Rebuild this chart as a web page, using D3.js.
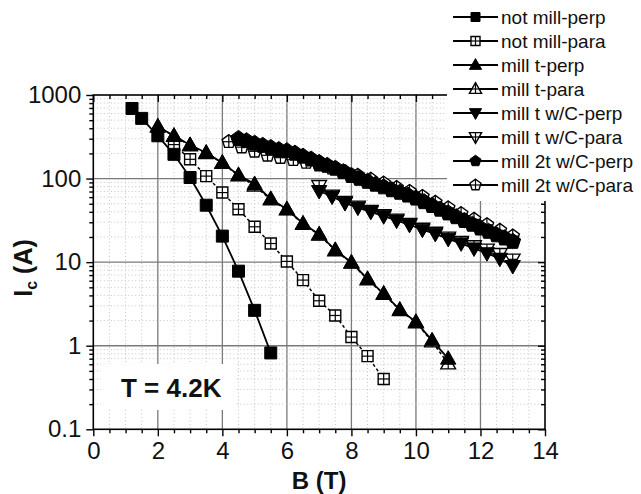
<!DOCTYPE html>
<html><head><meta charset="utf-8">
<script src="https://cdn.jsdelivr.net/npm/d3@7"></script>
<style>body{margin:0;background:#fff}svg{display:block;font-family:"Liberation Sans",Arial,sans-serif}</style>
</head><body>
<svg id="c" width="641" height="494"></svg>
<script>
// ---- data ----
const seriesNames = ["not mill-perp","not mill-para","mill t-perp","mill t-para","mill t w/C-perp","mill t w/C-para","mill 2t w/C-perp","mill 2t w/C-para"];

const bNotMillPerp = [1.2,1.5,2,2.5,3,3.5,4,4.5,5,5.5];
const icNotMillPerp = [690,525,325,195,103,48,20.5,7.8,2.65,0.82];

const bNotMillPara = [2.5,3,3.5,4,4.5,5,5.5,6,6.5,7,7.5,8,8.5,9];
const icNotMillPara = [255,170,107,68,43,26.5,16.7,10.2,6.1,3.45,2.3,1.27,0.75,0.40];

const bMillT = [2,2.5,3,3.5,4,4.5,5,5.5,6,6.5,7,7.5,8,8.5,9,9.5,10,10.5,11];
const icMillTPerp = [420,325,252,204,155,110,86,57,43,29,21.5,14,9.9,6.3,4.2,2.7,1.93,1.16,0.70];
const icMillTPara = [416,322,249,201,153,109,82,56,42.5,28.6,21.2,13.8,9.8,6.2,4.15,2.66,1.9,1.12,0.61];

const bMillTC = [7.0,7.4,7.8,8.2,8.6,9.0,9.4,9.8,10.2,10.6,11.0,11.4,11.8,12.2,12.6,13.0];
const icMillTCPerp = [71,61,51,45,40,35.5,31.5,28,24.5,21.8,19,16.8,14.6,12.8,11,9];
const icMillTCPara = [82,63,53,46.5,41.3,36.6,32.5,28.9,25.3,22.6,19.8,17.6,15.6,14.2,12.6,10.8];

const bMill2TPerp = [4.5,4.75,5,5.25,5.5,5.75,6,6.25,6.5,6.75,7,7.25,7.5,7.75,8,8.25,8.5,8.75,9,9.25,9.5,9.75,10,10.25,10.5,10.75,11,11.25,11.5,11.75,12,12.25,12.5,12.75,13];
const icMill2TPerp = [300,282,263,248,234,221,214,200,184,170,155,143,132,120,108,100,92,85,79,73,68,63,58,52.5,47.3,42.7,38.5,34.7,31.3,28.2,25.4,23.2,21.1,19.3,17.6];

const bMill2TPara = [4.2,4.6,5.0,5.4,5.8,6.2,6.6,7.0,7.4,7.8,8.2,8.6,9.0,9.4,9.8,10.2,10.6,11.0,11.4,11.8,12.2,12.6,13.0];
const icMill2TPara = [276,238,212,190,178,168,156,145,133,121,109,98,88,78,70,61,52,44.5,38,32.5,28,24,20.5];

const yTickValues = [0.1,1,10,100,1000];
const yTickLabels = ["0.1","1","10","100","1000"];
const xTickValues = [0,2,4,6,8,10,12,14];
const xTickLabels = ["0","2","4","6","8","10","12","14"];

// ---- layout ----
const svg = d3.select("#c");
const L = 93.3, R = 545, T = 95, B = 429.3;
const x = d3.scaleLinear().domain([0,14]).range([L,R]);
const y = d3.scaleLog().domain([0.1,1000]).range([B,T]);

const xMinor = d3.range(0,14.01,0.5).filter(v=>Math.abs(v%2)>1e-6);
const yMinor = [];
[0.1,1,10,100].forEach(d=>{for(let k=2;k<=9;k++) yMinor.push(d*k);});

const gGrid = svg.append("g");
gGrid.selectAll(".vx").data(xTickValues.filter(v=>v>0&&v<14)).enter().append("line")
  .attr("x1",d=>x(d)).attr("x2",d=>x(d)).attr("y1",T).attr("y2",B)
  .attr("stroke","#7a7a7a").attr("stroke-width",1.3);
gGrid.selectAll(".hy").data(yTickValues.filter(v=>v>0.1&&v<1000)).enter().append("line")
  .attr("y1",d=>y(d)).attr("y2",d=>y(d)).attr("x1",L).attr("x2",R)
  .attr("stroke","#7a7a7a").attr("stroke-width",1.3);

svg.append("rect").attr("x",101).attr("y",364).attr("width",134).attr("height",46).attr("fill","#fff");

gGrid.append("g").selectAll("line").data(xMinor).enter().append("line")
  .attr("x1",d=>x(d)).attr("x2",d=>x(d)).attr("y1",T).attr("y2",B)
  .attr("stroke","#c4c4c4").attr("stroke-width",1).attr("stroke-dasharray","1,2.5");
gGrid.append("g").selectAll("line").data(yMinor).enter().append("line")
  .attr("y1",d=>y(d)).attr("y2",d=>y(d)).attr("x1",L).attr("x2",R)
  .attr("stroke","#c4c4c4").attr("stroke-width",1).attr("stroke-dasharray","1,2.5");

svg.append("rect").attr("x",L).attr("y",T).attr("width",R-L).attr("height",B-T)
  .attr("fill","none").attr("stroke","#000").attr("stroke-width",1.6);

const fontTick = "24px";
const axL = svg.append("g").attr("transform",`translate(${L},0)`)
  .call(d3.axisLeft(y).tickValues(yTickValues).tickFormat((d,i)=>yTickLabels[i]).tickSize(7).tickPadding(5));
const axLm = svg.append("g").attr("transform",`translate(${L},0)`)
  .call(d3.axisLeft(y).tickValues(yMinor).tickFormat("").tickSize(4));
const axB = svg.append("g").attr("transform",`translate(0,${B})`)
  .call(d3.axisBottom(x).tickValues(xTickValues).tickFormat((d,i)=>xTickLabels[i]).tickSize(7).tickPadding(6));
const axBm = svg.append("g").attr("transform",`translate(0,${B})`)
  .call(d3.axisBottom(x).tickValues(xMinor).tickFormat("").tickSize(4));
const axT = svg.append("g").attr("transform",`translate(0,${T})`)
  .call(d3.axisTop(x).tickValues(xTickValues).tickFormat("").tickSize(-7));
const axTm = svg.append("g").attr("transform",`translate(0,${T})`)
  .call(d3.axisTop(x).tickValues(xMinor).tickFormat("").tickSize(-4));
const axR = svg.append("g").attr("transform",`translate(${R},0)`)
  .call(d3.axisRight(y).tickValues(yTickValues).tickFormat("").tickSize(-7));
const axRm = svg.append("g").attr("transform",`translate(${R},0)`)
  .call(d3.axisRight(y).tickValues(yMinor).tickFormat("").tickSize(-4));
[axL,axLm,axB,axBm,axT,axTm,axR,axRm].forEach(a=>{
  a.select(".domain").remove();
  a.selectAll("line").attr("stroke","#000").attr("stroke-width",1.4);
  a.selectAll("text").attr("font-size",fontTick).attr("fill","#111")
    .attr("font-family",'"Liberation Sans",Arial,sans-serif');
});

svg.append("rect").attr("x",447).attr("y",0).attr("width",194).attr("height",201).attr("fill","#fff");

// ---- markers ----
function shapePts(type,r){
  if(type==="square") return [[-r,-r],[r,-r],[r,r],[-r,r]];
  if(type==="up") return [[0,-1.1*r],[1.05*r,0.75*r],[-1.05*r,0.75*r]];
  if(type==="down") return [[0,1.1*r],[1.05*r,-0.75*r],[-1.05*r,-0.75*r]];
  return [0,1,2,3,4].map(k=>{const a=(-90+72*k)*Math.PI/180;return [r*Math.cos(a),r*Math.sin(a)];});
}
function crossLines(type,r){
  if(type==="square") return [[0,-r,0,r],[-r,0,r,0]];
  if(type==="up") return [[0,-1.1*r,0,0.75*r],[-0.62*r,0,0.62*r,0]];
  if(type==="down") return [[0,-0.75*r,0,1.1*r],[-0.62*r,0,0.62*r,0]];
  return [[0,-r,0,0.81*r],[-0.85*r,0,0.85*r,0]];
}
function drawMarker(g,type,open,cx,cy,r){
  const pts = shapePts(type,r);
  g.append("path").attr("d","M"+pts.map(p=>(cx+p[0])+","+(cy+p[1])).join("L")+"Z")
    .attr("fill",open?"#fff":"#000").attr("stroke","#000").attr("stroke-width",open?1.4:1);
  if(open){
    crossLines(type,r).forEach(l=>{
      g.append("line").attr("x1",cx+l[0]).attr("y1",cy+l[1]).attr("x2",cx+l[2]).attr("y2",cy+l[3])
        .attr("stroke","#000").attr("stroke-width",1.2);
    });
  }
}

const series = [
  {name:seriesNames[0], xs:bNotMillPerp, ys:icNotMillPerp, shape:"square", open:false, r:6},
  {name:seriesNames[1], xs:bNotMillPara, ys:icNotMillPara, shape:"square", open:true, r:5.5},
  {name:seriesNames[2], xs:bMillT, ys:icMillTPerp, shape:"up", open:false, r:7.3},
  {name:seriesNames[3], xs:bMillT, ys:icMillTPara, shape:"up", open:true, r:7},
  {name:seriesNames[4], xs:bMillTC, ys:icMillTCPerp, shape:"down", open:false, r:7.3},
  {name:seriesNames[5], xs:bMillTC, ys:icMillTCPara, shape:"down", open:true, r:7},
  {name:seriesNames[6], xs:bMill2TPerp, ys:icMill2TPerp, shape:"pent", open:false, r:8.3},
  {name:seriesNames[7], xs:bMill2TPara, ys:icMill2TPara, shape:"pent", open:true, r:7}
];

const gData = svg.append("g");
const line = d3.line().x(d=>x(d[0])).y(d=>y(d[1]));
series.forEach(s=>{
  const pts = s.xs.map((v,i)=>[v,s.ys[i]]);
  gData.append("path").attr("d",line(pts)).attr("fill","none").attr("stroke","#000")
    .attr("stroke-width",s.open?1.5:1.8).attr("stroke-dasharray",s.open?"3,2.5":null);
});
series.filter(s=>s.open).concat(series.filter(s=>!s.open)).forEach(s=>{
  const g = gData.append("g");
  s.xs.forEach((v,i)=>drawMarker(g,s.shape,s.open,x(v),y(s.ys[i]),s.r));
});

// ---- legend ----
const gLeg = svg.append("g");
series.forEach((s,i)=>{
  const cy = 17 + i*24;
  gLeg.append("line").attr("x1",453).attr("x2",498).attr("y1",cy).attr("y2",cy)
    .attr("stroke","#000").attr("stroke-width",2);
  const r = s.shape==="square" ? 4.5 : 5.8;
  drawMarker(gLeg,s.shape,s.open,475.5,cy,r);
  gLeg.append("text").attr("x",501).attr("y",cy).attr("dy","0.36em")
    .attr("font-size","19px").attr("fill","#111").text(s.name);
});

// ---- labels ----
svg.append("text").attr("x",121).attr("y",397).attr("font-size","26px").attr("font-weight","bold")
  .attr("fill","#111").text("T = 4.2K");
svg.append("text").attr("x",(L+R)/2).attr("y",489).attr("text-anchor","middle")
  .attr("font-size","24px").attr("font-weight","bold").attr("fill","#111").text("B (T)");
const yl = svg.append("text").attr("transform","translate(32,268) rotate(-90)").attr("text-anchor","middle")
  .attr("font-size","25px").attr("font-weight","bold").attr("fill","#111");
yl.append("tspan").text("I");
yl.append("tspan").attr("font-size","16px").attr("dy","5").text("c");
yl.append("tspan").attr("dy","-5").text(" (A)");
</script>
</body></html>
